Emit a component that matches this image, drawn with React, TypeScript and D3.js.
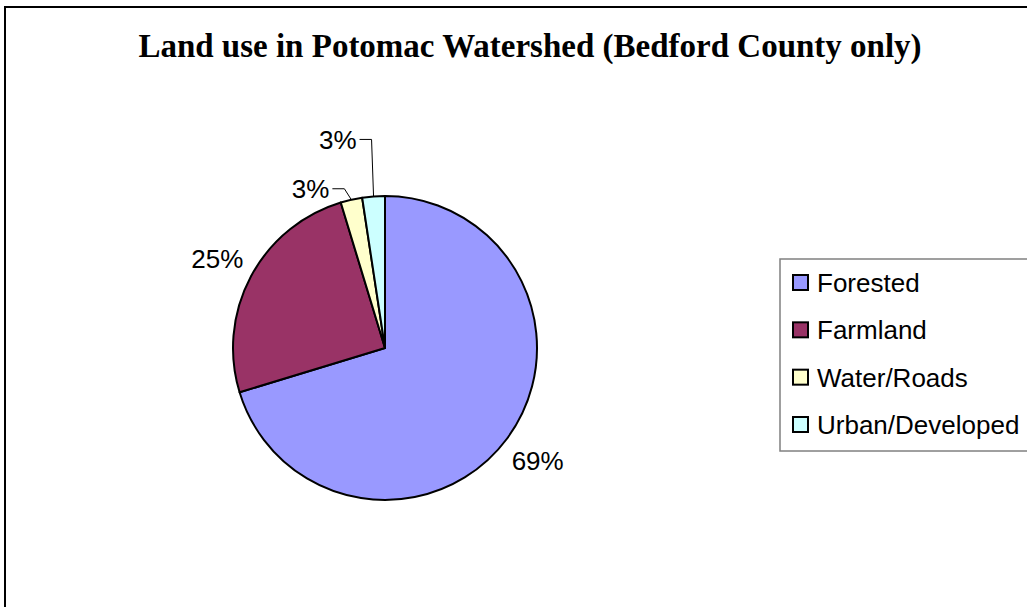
import { useEffect, useRef } from "react";
import * as d3 from "d3";

const width = 1040;
const height = 620;

const categories = ["Forested", "Farmland", "Water/Roads", "Urban/Developed"];
const shares = [70.3, 25.0, 2.3, 2.4];
const pctLabels = ["69%", "25%", "3%", "3%"];
const colors = ["#9999FF", "#993366", "#FFFFCC", "#CCFFFF"];

// leader-line elbows for the small slices (offset from the slice edge)
const elbows = [null, null, { dx: -7, dy: -11 }, { dx: -2, dy: -57 }];

const title = "Land use in Potomac Watershed (Bedford County only)";

const App = () => {
  const chartRef = useRef<SVGSVGElement>(null);

  useEffect(() => {
    drawChart();
  }, []);

  const drawChart = () => {
    const svg = d3.select(chartRef.current);
    svg.selectAll("*").remove();

    const cx = 385;
    const cy = 348;
    const radius = 152;

    // outer frame
    svg.append("rect")
      .attr("x", 5).attr("y", 7)
      .attr("width", width).attr("height", height)
      .attr("fill", "#fff")
      .attr("stroke", "#000")
      .attr("stroke-width", 2);

    svg.append("text")
      .attr("x", 530).attr("y", 57)
      .attr("text-anchor", "middle")
      .attr("font-family", "'Liberation Serif', 'Times New Roman', serif")
      .attr("font-weight", "bold")
      .attr("font-size", 33)
      .text(title);

    const data = categories.map((c, i) => ({ name: c, value: shares[i], i }));
    const pie = d3.pie<any>().value(d => d.value).sort(null);
    const arcs = pie(data);

    const path = d3.arc<any>().innerRadius(0).outerRadius(radius);
    const edge = d3.arc<any>().innerRadius(radius).outerRadius(radius);
    const label = d3.arc<any>().innerRadius(190).outerRadius(190);

    const g = svg.append("g").attr("transform", `translate(${cx},${cy})`);

    g.selectAll(".slice")
      .data(arcs)
      .enter().append("path")
      .attr("class", "slice")
      .attr("d", path)
      .attr("fill", d => colors[d.data.i])
      .attr("stroke", "#000")
      .attr("stroke-width", 2)
      .attr("stroke-linejoin", "round");

    const font = "'Liberation Sans', Arial, sans-serif";

    arcs.forEach(d => {
      const i = d.data.i;
      const el = elbows[i];
      if (!el) {
        const [lx, ly] = label.centroid(d);
        g.append("text")
          .attr("x", lx).attr("y", ly)
          .attr("dy", "0.35em")
          .attr("text-anchor", "middle")
          .attr("font-family", font)
          .attr("font-size", 26)
          .text(pctLabels[i]);
      } else {
        const [ex, ey] = edge.centroid(d);
        const bx = ex + el.dx;
        const by = ey + el.dy;
        g.append("polyline")
          .attr("points", `${ex},${ey} ${bx},${by} ${bx - 12},${by}`)
          .attr("fill", "none")
          .attr("stroke", "#000")
          .attr("stroke-width", 1);
        g.append("text")
          .attr("x", bx - 15).attr("y", by)
          .attr("dy", "0.35em")
          .attr("text-anchor", "end")
          .attr("font-family", font)
          .attr("font-size", 26)
          .text(pctLabels[i]);
      }
    });

    // legend
    const lg = svg.append("g").attr("transform", "translate(780,259)");
    lg.append("rect")
      .attr("width", 280).attr("height", 192)
      .attr("fill", "#fff")
      .attr("stroke", "#808080")
      .attr("stroke-width", 1.5);

    const row = d3.scalePoint<string>()
      .domain(categories)
      .range([24, 166]);

    categories.forEach((c, i) => {
      const y = row(c) as number;
      lg.append("rect")
        .attr("x", 13).attr("y", y - 8)
        .attr("width", 15).attr("height", 15)
        .attr("fill", colors[i])
        .attr("stroke", "#000")
        .attr("stroke-width", 2);
      lg.append("text")
        .attr("x", 37).attr("y", y)
        .attr("dy", "0.35em")
        .attr("font-family", font)
        .attr("font-size", 26)
        .text(c);
    });
  };

  return (
    <div style={{ position: "absolute", left: 0, top: 0, width: 1027, height: 607, overflow: "hidden" }}>
      <svg ref={chartRef} width={width} height={height}></svg>
    </div>
  );
};

export default App;
